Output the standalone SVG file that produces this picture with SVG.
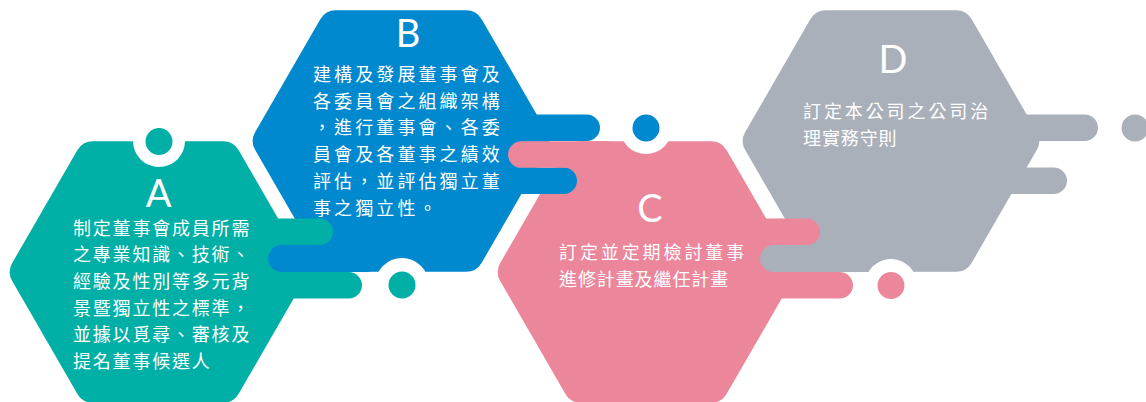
<svg xmlns="http://www.w3.org/2000/svg" width="1146" height="402" viewBox="0 0 1146 402" xml:lang="zh-TW" lang="zh-TW">
  <style>
    .teal { fill: #00B0A6; }
    .blue { fill: #0089CF; }
    .pink { fill: #EC869B; }
    .grey { fill: #A9B0B9; }
    .white { fill: #FFFFFF; }
    .letter { font-family: "Lato", "Open Sans", "Liberation Sans", sans-serif; font-size: 38px; font-weight: 400; fill: #FFFFFF; text-anchor: middle; }
    .body { font-family: "Noto Sans CJK TC", "Noto Sans CJK SC", sans-serif; font-size: 18px; fill: #FFFFFF; }
    .a { letter-spacing: 1.8px; }
    .b { letter-spacing: 3.1px; }
    .wide { letter-spacing: 2.9px; }
    .tight { letter-spacing: 0.9px; }
  </style>
  <defs>
    <path id="hex" d="M-145.8,-9 L-80.7,-121.8 A18,18 0 0 1 -65.1,-130.8 L65.1,-130.8 A18,18 0 0 1 80.7,-121.8 L145.8,-9 A18,18 0 0 1 145.8,9 L80.7,121.8 A18,18 0 0 1 65.1,130.8 L-65.1,130.8 A18,18 0 0 1 -80.7,121.8 L-145.8,9 A18,18 0 0 1 -145.8,-9 Z"/>
  </defs>

  <g id="node-A">
    <use href="#hex" x="158" y="272" class="teal"/>
    <text class="letter" x="158.5" y="207">A</text>
    <text class="body a" x="73" y="234.5">制定董事會成員所需</text>
    <text class="body a" x="73" y="261.2">之專業知識、技術、</text>
    <text class="body a" x="73" y="287.9">經驗及性別等多元背</text>
    <text class="body a" x="73" y="314.6">景暨獨立性之標準，</text>
    <text class="body a" x="73" y="341.3">並據以覓尋、審核及</text>
    <text class="body a" x="73" y="368">提名董事候選人</text>
  </g>

  <g id="node-B">
    <use href="#hex" x="401" y="141" class="blue"/>
    <text class="letter" x="408" y="47">B</text>
    <text class="body b" x="313" y="81">建構及發展董事會及</text>
    <text class="body b" x="313" y="107.7">各委員會之組織架構</text>
    <text class="body b" x="313" y="134.4">，進行董事會、各委</text>
    <text class="body b" x="313" y="161.1">員會及各董事之績效</text>
    <text class="body b" x="313" y="187.8">評估，並評估獨立董</text>
    <text class="body b" x="313" y="214.5">事之獨立性。</text>
  </g>

  <g id="node-C">
    <use href="#hex" x="646" y="272" class="pink"/>
    <text class="letter" x="650" y="222">C</text>
    <text class="body wide" x="559" y="258.5">訂定並定期檢討董事</text>
    <text class="body tight" x="559" y="285.5">進修計畫及繼任計畫</text>
  </g>

  <g id="node-D">
    <use href="#hex" x="891" y="141" class="grey"/>
    <text class="letter" x="893" y="73">D</text>
    <text class="body wide" x="803" y="117.5">訂定本公司之公司治</text>
    <text class="body tight" x="803" y="144.5">理實務守則</text>
  </g>

  <g id="connectors">
    <rect class="teal" x="260" y="218.5" width="73" height="26.5" rx="13.25"/>
    <rect class="teal" x="260" y="272" width="102" height="26.5" rx="13.25"/>
    <rect class="blue" x="268" y="245" width="112" height="27" rx="13.5"/>
    <rect class="blue" x="505" y="114.5" width="95" height="26.5" rx="13.25"/>
    <rect class="blue" x="505" y="167.5" width="72" height="26.5" rx="13.25"/>
    <rect class="pink" x="508" y="141.3" width="112" height="26.5" rx="13.25"/>
    <rect class="pink" x="750" y="218.5" width="70" height="26.5" rx="13.25"/>
    <rect class="grey" x="760" y="245" width="120" height="27" rx="13.5"/>
    <rect class="pink" x="750" y="272" width="103" height="26.5" rx="13.25"/>
    <rect class="grey" x="995" y="114.5" width="103" height="26.5" rx="13.25"/>
    <rect class="grey" x="995" y="167.5" width="72" height="26.5" rx="13.25"/>

    <circle class="white" cx="159" cy="141" r="26"/>
    <circle class="white" cx="402" cy="285" r="27"/>
    <circle class="white" cx="646" cy="128" r="26"/>
    <circle class="white" cx="891" cy="285" r="26"/>

    <circle class="teal" cx="159" cy="141.5" r="13.5"/>
    <circle class="teal" cx="402" cy="285" r="13.5"/>
    <circle class="blue" cx="646" cy="128" r="13.5"/>
    <circle class="pink" cx="891" cy="285.5" r="13.5"/>
    <circle class="grey" cx="1135" cy="128" r="13.5"/>
  </g>
</svg>
